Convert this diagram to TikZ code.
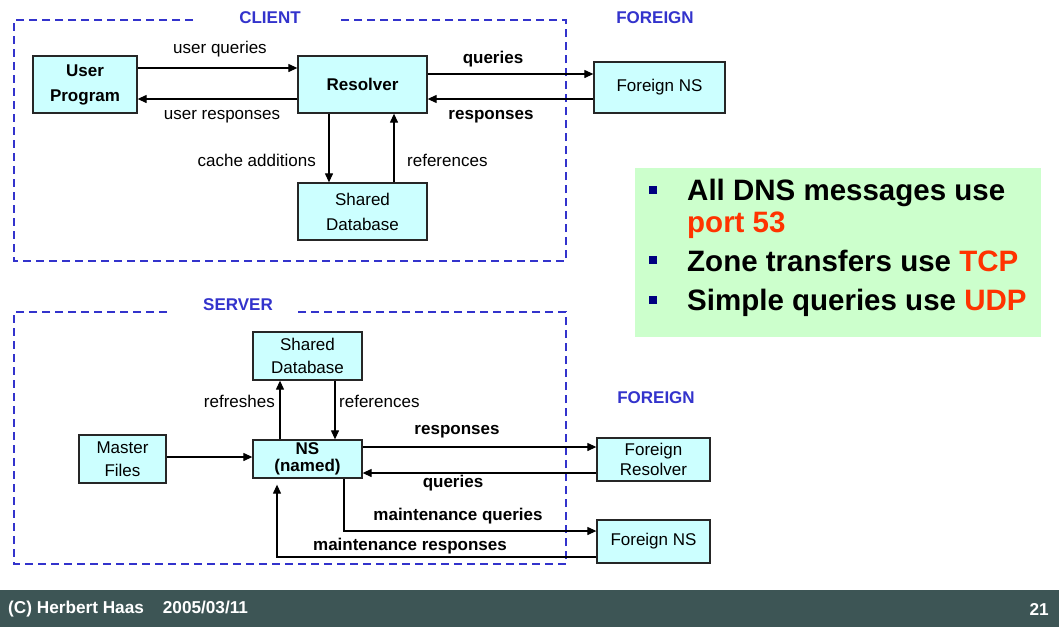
\documentclass[tikz,border=0pt]{standalone}
\usepackage{fontspec}
\setmainfont{Liberation Sans}
\usetikzlibrary{arrows.meta}

\definecolor{boxfill}{HTML}{CCFFFF}
\definecolor{zoneblue}{HTML}{3333CC}
\definecolor{notegreen}{HTML}{CCFFCC}
\definecolor{hot}{HTML}{FF3300}
\definecolor{bulletblue}{HTML}{000080}
\definecolor{footbar}{HTML}{3D5555}

\newcommand\fsz[2]{\fontsize{#1}{#2}\selectfont}

\begin{document}
\begin{tikzpicture}[x=1pt,y=-1pt,
  blk/.style={draw=black!85, line width=1.3pt, fill=boxfill, inner sep=0pt,
              align=center, font=\fsz{17}{20}},
  arr/.style={-{Triangle[length=9pt,width=8pt]}, line width=1.2pt},
  lbl/.style={inner sep=0pt, font=\fsz{17}{20}},
  blbl/.style={inner sep=0pt, font=\fsz{17}{20}\bfseries},
  zone/.style={draw=zoneblue, line width=1.6pt, dash pattern=on 8pt off 5pt},
  zlbl/.style={inner sep=0pt, text=zoneblue, font=\fsz{17}{20}\bfseries},
  bul/.style={fill=bulletblue, inner sep=0pt, minimum size=8pt},
  note/.style={inner sep=0pt, anchor=base west, font=\fsz{29.5}{32}\bfseries},
]
\useasboundingbox (0,0) rectangle (1059,627);
\fill[white] (0,0) rectangle (1059,627);

% ---------- client zone ----------
\draw[zone] (193,20) -- (14,20) -- (14,261) -- (566,261) -- (566,20) -- (338,20);
\node[zlbl] (client) at (270,18) {CLIENT};
\node[zlbl] (foreign1) at (655,18) {FOREIGN};

\node[blk, minimum width=104pt, minimum height=57pt, font=\fsz{17}{25}\bfseries]
  (up) at (85,84.5) {User\\Program};
\node[blk, minimum width=129pt, minimum height=57pt, font=\fsz{17}{20}\bfseries]
  (res) at (362.5,84.5) {Resolver};
\node[blk, minimum width=131pt, minimum height=51pt]
  (fns1) at (659.5,87.5) {Foreign NS};
\node[blk, minimum width=129pt, minimum height=57pt, font=\fsz{17}{25}]
  (sdb1) at (362.5,211.5) {Shared\\Database};

\draw[arr] (up.east |- 0,68) -- (res.west |- 0,68);
\draw[arr] (res.west |- 0,99) -- (up.east |- 0,99);
\draw[arr] (res.east |- 0,74) -- (fns1.west |- 0,74);
\draw[arr] (fns1.west |- 0,99) -- (res.east |- 0,99);
\draw[arr] (res.south -| 329,0) -- (sdb1.north -| 329,0);
\draw[arr] (sdb1.north -| 394,0) -- (res.south -| 394,0);

\node[lbl] (luq) at (220,49) {user queries};
\node[lbl] (lur) at (222,117) {user responses};
\node[blbl] (lq1) at (493,59) {queries};
\node[blbl] (lr1) at (491,117) {responses};
\node[lbl, anchor=east] (lca) at (316,160) {cache additions};
\node[lbl, anchor=west] (lref1) at (407,160) {references};

% ---------- note panel ----------
\fill[notegreen] (635,168) rectangle (1041,337);
\node[bul] (s1) at (652.5,190) {};
\node[bul] (s2) at (652.5,260) {};
\node[bul] (s3) at (652.5,300) {};
\node[note] (n1) at (687,200) {All DNS messages use};
\node[note, text=hot] (n1b) at (687,232) {port 53};
\node[note] (n2) at (687,271) {Zone transfers use \textcolor{hot}{TCP}};
\node[note] (n3) at (687,310) {Simple queries use \textcolor{hot}{UDP}};

% ---------- server zone ----------
\draw[zone] (167,312) -- (14,312) -- (14,564) -- (566,564) -- (566,312) -- (294,312);
\node[zlbl] (server) at (238,305) {SERVER};
\node[zlbl] (foreign2) at (656,398) {FOREIGN};

\node[blk, minimum width=109pt, minimum height=48pt, font=\fsz{17}{23}]
  (sdb2) at (307.5,356) {Shared\\Database};
\node[blk, minimum width=109pt, minimum height=38pt, font=\fsz{17}{17}\bfseries]
  (ns) at (307.5,459) {NS\\(named)};
\node[blk, minimum width=87pt, minimum height=48pt, font=\fsz{17}{23}]
  (mf) at (122.5,459) {Master\\Files};
\node[blk, minimum width=113pt, minimum height=43pt, font=\fsz{17}{20}]
  (fres) at (653.5,459.5) {Foreign\\Resolver};
\node[blk, minimum width=113pt, minimum height=43pt]
  (fns2) at (653.5,541.5) {Foreign NS};

\draw[arr] (ns.north -| 280,0) -- (sdb2.south -| 280,0);
\draw[arr] (sdb2.south -| 335,0) -- (ns.north -| 335,0);
\draw[arr] (mf.east |- 0,457) -- (ns.west |- 0,457);
\draw[arr] (ns.east |- 0,447) -- (fres.west |- 0,447);
\draw[arr] (fres.west |- 0,473) -- (ns.east |- 0,473);
\draw[arr] (ns.south -| 344,0) |- (fns2.west |- 0,531);
\draw[arr, shorten >=6pt] (fns2.west |- 0,557) -| (ns.south -| 277,0);

\node[lbl, anchor=east] (lrf) at (275,401) {refreshes};
\node[lbl, anchor=west] (lref2) at (339,401) {references};
\node[blbl] (lr2) at (457,432) {responses};
\node[blbl] (lq2) at (453,483) {queries};
\node[blbl] (lmq) at (458,516) {maintenance queries};
\node[blbl] (lmr) at (410,546) {maintenance responses};

% ---------- footer ----------
\fill[footbar] (0,590) rectangle (1059,627);
\node[inner sep=0pt, anchor=west, text=white, font=\fsz{17.2}{20}\bfseries]
  (foot) at (8,609) {(C) Herbert Haas\hspace{19pt}2005/03/11};
\node[inner sep=0pt, anchor=east, text=white, font=\fsz{17.2}{20}\bfseries]
  (page) at (1049,609) {21};
\end{tikzpicture}
\end{document}
